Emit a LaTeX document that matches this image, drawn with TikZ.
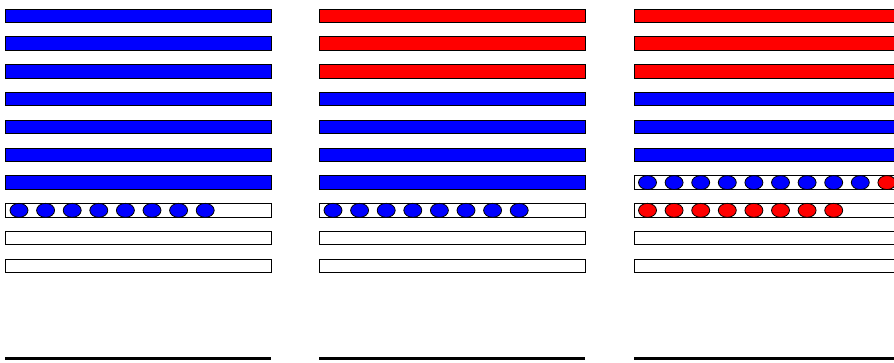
\documentclass[tikz,border=0pt]{standalone}
\usetikzlibrary{shapes.geometric}
\begin{document}
\begin{tikzpicture}[
    x=1pt, y=-1pt,
    bar/.style={draw=black, line width=0.9pt},
    ball/.style={ellipse, draw=black, line width=0.8pt, minimum width=18pt, minimum height=14pt, inner sep=0pt},
    floor/.style={draw=black, line width=3pt},
  ]
  \useasboundingbox (0,0) rectangle (894,362);
  \clip (0,0) rectangle (894,362);

  % Column 1: seven blue layers, one row of balls
  \foreach \r in {0,...,6}
    \draw[bar, fill=blue] (5,{9+27.8*\r}) rectangle ++(266,13.5);
  \foreach \r in {7,8,9}
    \draw[bar, fill=white] (5,{9+27.8*\r}) rectangle ++(266,13.5);
  \foreach \i in {0,...,7}
    \node[ball, fill=blue] (a\i) at ({19+26.6*\i},210.35) {};

  % Column 2: three red layers over four blue ones
  \foreach \r in {0,1,2}
    \draw[bar, fill=red] (319,{9+27.8*\r}) rectangle ++(266,13.5);
  \foreach \r in {3,...,6}
    \draw[bar, fill=blue] (319,{9+27.8*\r}) rectangle ++(266,13.5);
  \foreach \r in {7,8,9}
    \draw[bar, fill=white] (319,{9+27.8*\r}) rectangle ++(266,13.5);
  \foreach \i in {0,...,7}
    \node[ball, fill=blue] (b\i) at ({333+26.6*\i},210.35) {};

  % Column 3: three red, three blue, two rows of balls
  \foreach \r in {0,1,2}
    \draw[bar, fill=red] (634,{9+27.8*\r}) rectangle ++(266,13.5);
  \foreach \r in {3,4,5}
    \draw[bar, fill=blue] (634,{9+27.8*\r}) rectangle ++(266,13.5);
  \foreach \r in {6,...,9}
    \draw[bar, fill=white] (634,{9+27.8*\r}) rectangle ++(266,13.5);
  \foreach \i in {0,...,8}
    \node[ball, fill=blue] (c\i) at ({647.5+26.6*\i},182.55) {};
  \node[ball, fill=red] (c9) at ({647.5+26.6*9},182.55) {};
  \foreach \i in {0,...,7}
    \node[ball, fill=red] (d\i) at ({647.5+26.6*\i},210.35) {};

  % Floors
  \draw[floor] (5,358.7) -- (271,358.7);
  \draw[floor] (319,358.7) -- (585,358.7);
  \draw[floor] (634,358.7) -- (900,358.7);

\end{tikzpicture}
\end{document}
